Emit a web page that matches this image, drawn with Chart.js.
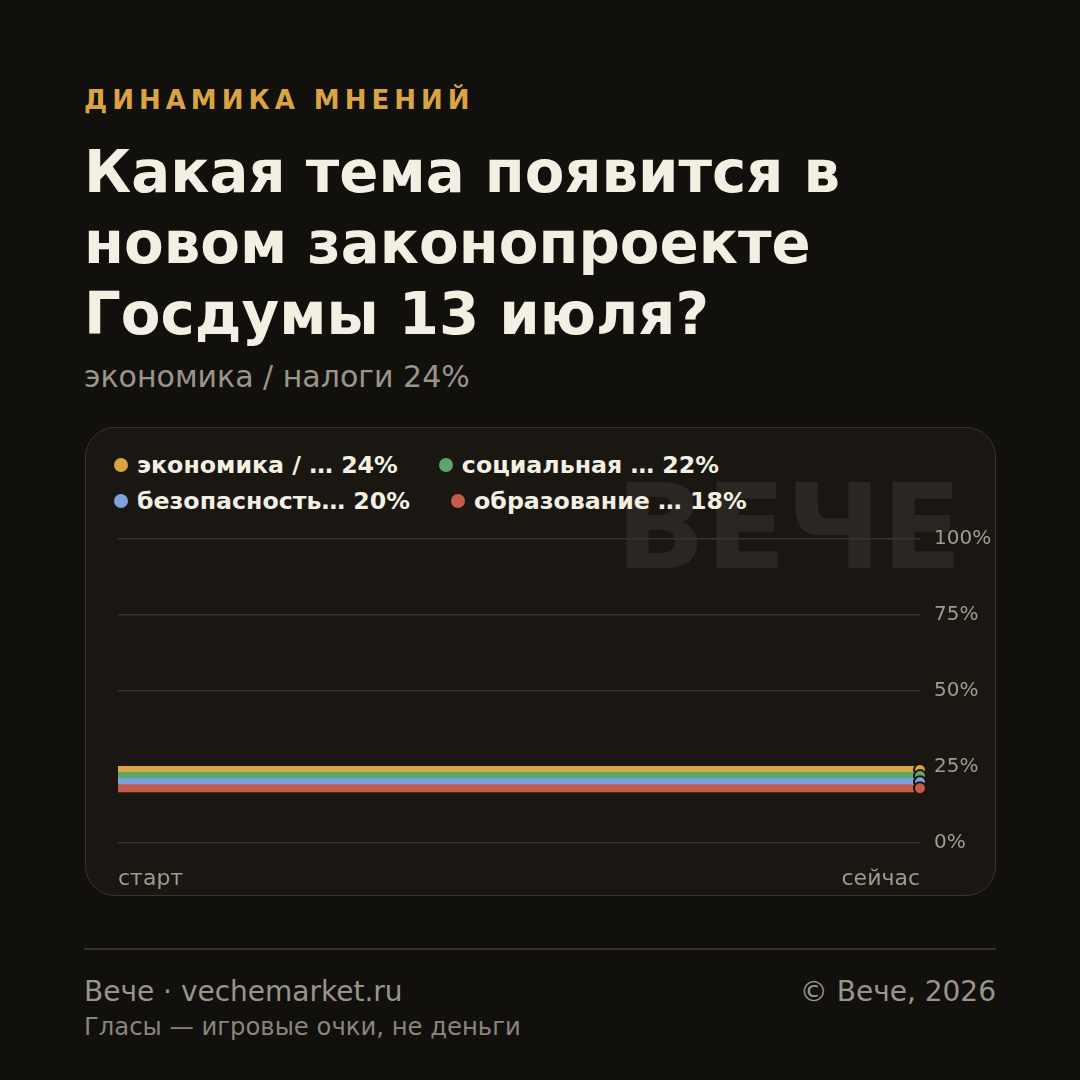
<!DOCTYPE html>
<html><head><meta charset="utf-8">
<script src="https://cdn.jsdelivr.net/npm/chart.js@4"></script>
<style>
html,body{margin:0;padding:0;background:#11100d;}
#page{position:relative;width:1080px;height:1080px;overflow:hidden;background:#11100d;font-family:"DejaVu Sans",sans-serif;}
.kicker{position:absolute;left:84px;top:84px;font-size:26px;font-weight:bold;letter-spacing:5px;color:#d9a441;line-height:32px;white-space:nowrap}
.title{position:absolute;left:84px;top:137px;font-size:57.8px;font-weight:bold;line-height:71px;color:#f3efe2;white-space:nowrap}
.sub{position:absolute;left:84px;top:360px;font-size:30px;line-height:34px;color:#9a958a;white-space:nowrap}
.card{position:absolute;left:85px;top:427px;width:911px;height:469px;box-sizing:border-box;border:1.5px solid #38342e;border-radius:30px;background:#1a1713;}
.wm{position:absolute;right:118px;top:467px;font-size:118px;line-height:120px;font-weight:bold;color:#2a2722;white-space:nowrap}
#legend{position:absolute;left:114px;top:447px;width:860px;display:flex;flex-wrap:wrap;column-gap:41px;}
.li{display:flex;align-items:center;height:36px;font-size:23.7px;font-weight:bold;color:#f3efe2;white-space:nowrap}
.dot{width:14px;height:14px;border-radius:50%;margin-right:9px;}
#chart{position:absolute;left:84px;top:520px;}
.rule{position:absolute;left:84px;top:948px;width:912px;height:1.5px;background:#35312b}
.f1{position:absolute;left:84px;top:976px;font-size:28px;line-height:32px;color:#9a958a;white-space:nowrap}
.f2{position:absolute;right:84px;top:976px;font-size:28px;line-height:32px;color:#9a958a;white-space:nowrap}
.f3{position:absolute;left:84px;top:1013px;font-size:24.3px;line-height:28px;color:#8a857b;white-space:nowrap}
</style></head>
<body><div id="page">
<div class="kicker">ДИНАМИКА МНЕНИЙ</div>
<div class="title">Какая тема появится в<br>новом законопроекте<br>Госдумы 13 июля?</div>
<div class="sub">экономика / налоги 24%</div>
<div class="card"></div>
<div class="wm">ВЕЧЕ</div>
<div id="legend"></div>
<canvas id="chart" width="912" height="380"></canvas>
<div class="rule"></div>
<div class="f1">Вече · vechemarket.ru</div>
<div class="f2">© Вече, 2026</div>
<div class="f3">Гласы — игровые очки, не деньги</div>
</div>
<script>
const categories = ['старт', 'сейчас'];
const seriesLabels = ['экономика / … 24%', 'социальная … 22%', 'безопасность… 20%', 'образование … 18%'];
const economyValues = [24, 24];
const socialValues = [22, 22];
const securityValues = [20, 20];
const educationValues = [18, 18];
const seriesColors = ['#d9a441', '#5aa66b', '#7ea2e0', '#c75b4b'];
const yTicks = [0, 25, 50, 75, 100];

const seriesValues = [economyValues, socialValues, securityValues, educationValues];

const legend = document.getElementById('legend');
seriesLabels.forEach((l, i) => {
  const d = document.createElement('div'); d.className = 'li';
  d.innerHTML = '<span class="dot" style="background:' + seriesColors[i] + '"></span>' + l;
  legend.appendChild(d);
});

const last = categories.length - 1;
const datasets = seriesValues.map((vals, i) => ({
  label: seriesLabels[i],
  data: vals,
  borderColor: seriesColors[i],
  backgroundColor: seriesColors[i],
  borderWidth: 8,
  borderCapStyle: 'butt',
  tension: 0,
  fill: false,
  clip: false,
  order: seriesValues.length - i,
  pointRadius: c => c.dataIndex === last ? 6 : 0,
  pointHoverRadius: 0,
  pointBackgroundColor: seriesColors[i],
  pointBorderColor: '#1a1713',
  pointBorderWidth: 2
}));

new Chart(document.getElementById('chart'), {
  type: 'line',
  data: { labels: categories, datasets },
  options: {
    responsive: false,
    animation: false,
    layout: { padding: { left: 34, right: 0, top: 19, bottom: 0 } },
    plugins: { legend: { display: false }, tooltip: { enabled: false } },
    scales: {
      x: {
        offset: false,
        grid: { display: false },
        border: { display: false },
        afterFit: s => { s.height = 57; s.paddingLeft = 0; s.paddingRight = 0; },
        ticks: { align: 'inner', padding: 15, color: '#a09a8e', font: { family: 'DejaVu Sans', size: 22 }, maxRotation: 0 }
      },
      y: {
        position: 'right',
        min: 0, max: 100,
        afterFit: s => { s.width = 76; s.paddingTop = 0; s.paddingBottom = 0; },
        afterBuildTicks: s => { s.ticks = yTicks.map(v => ({ value: v })); },
        grid: { color: '#37332d', lineWidth: 1.5, drawTicks: false },
        border: { display: false },
        ticks: { padding: 14, color: '#a09a8e', font: { family: 'DejaVu Sans', size: 20 }, callback: v => v + '%' }
      }
    }
  }
});
</script>
</body></html>
